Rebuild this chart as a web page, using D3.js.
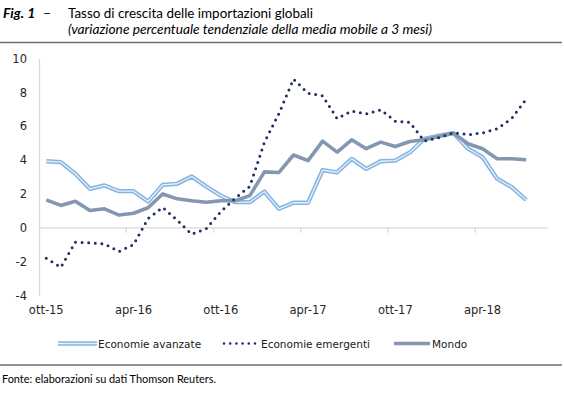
<!DOCTYPE html>
<html><head><meta charset="utf-8">
<script src="https://cdn.jsdelivr.net/npm/d3@7/dist/d3.min.js"></script>
<style>body{margin:0;background:#fff} svg{display:block}</style>
</head><body><svg id="c" width="564" height="402"></svg>
<script>
const categories = ["ott-15","nov-15","dic-15","gen-16","feb-16","mar-16","apr-16","mag-16","giu-16","lug-16","ago-16","set-16",
  "ott-16","nov-16","dic-16","gen-17","feb-17","mar-17","apr-17","mag-17","giu-17","lug-17","ago-17","set-17",
  "ott-17","nov-17","dic-17","gen-18","feb-18","mar-18","apr-18","mag-18","giu-18","lug-18","ago-18"];
const tickLabels = ["ott-15","apr-16","ott-16","apr-17","ott-17","apr-18"];
const yTicks = [-4,-2,0,2,4,6,8,10];
const avanzate = [3.93,3.88,3.19,2.3,2.5,2.16,2.16,1.55,2.54,2.6,3.03,2.44,1.9,1.51,1.51,2.14,1.12,1.48,1.48,3.4,3.28,4.07,3.48,3.93,3.97,4.45,5.26,5.45,5.59,4.67,4.17,2.9,2.4,1.65];
const emergenti = [-1.8,-2.33,-0.85,-0.89,-0.95,-1.4,-1.0,0.55,1.2,0.45,-0.38,-0.05,0.95,1.75,2.45,5.05,6.75,8.78,7.95,7.8,6.45,6.9,6.72,6.97,6.3,6.22,5.12,5.32,5.62,5.5,5.6,5.85,6.45,7.6];
const mondo = [1.65,1.32,1.57,1.02,1.12,0.75,0.86,1.18,2.0,1.71,1.6,1.51,1.6,1.6,1.9,3.3,3.27,4.3,3.97,5.12,4.47,5.2,4.67,5.06,4.8,5.1,5.2,5.39,5.59,4.96,4.67,4.08,4.08,4.02];
const seriesNames = ["Economie avanzate","Economie emergenti","Mondo"];

const svg = d3.select("#c");
const x = d3.scaleBand().domain(categories).range([39,548]);
const y = d3.scaleLinear().domain([-4,10]).range([295.5,58.5]);
const cx = i => x(categories[i]) + x.bandwidth()/2;

// Header
const head = svg.append("g").attr("fill","#000");
head.append("text").attr("x",3).attr("y",18).attr("font-family","Lato, sans-serif").attr("font-size",14)
  .attr("font-weight","bold").attr("font-style","italic").text("Fig. 1");
head.append("text").attr("x",43).attr("y",18).attr("font-family","Lato, sans-serif").attr("font-size",14).text("–");
head.append("text").attr("x",68).attr("y",18).attr("font-family","Lato, sans-serif").attr("font-size",14)
  .attr("textLength",245).attr("lengthAdjust","spacingAndGlyphs").text("Tasso di crescita delle importazioni globali");
head.append("text").attr("x",68).attr("y",34).attr("font-family","Lato, sans-serif").attr("font-size",12.5)
  .attr("font-style","italic").attr("textLength",364).attr("lengthAdjust","spacingAndGlyphs")
  .text("(variazione percentuale tendenziale della media mobile a 3 mesi)");
svg.append("line").attr("x1",0).attr("x2",562).attr("y1",42.5).attr("y2",42.5).attr("stroke","#6f6f6f").attr("stroke-width",1.3);

// Y axis
const yAxis = svg.append("g").attr("transform","translate(39,0)")
  .call(d3.axisLeft(y).tickValues(yTicks).tickSize(0).tickPadding(12).tickFormat(d => String(d)));
yAxis.select(".domain").attr("stroke","#d9d9d9").attr("stroke-width",1.3);
yAxis.selectAll("text").attr("font-family","DejaVu Sans, sans-serif").attr("font-size",11.5).attr("fill","#262626");

// X axis line at 0
svg.append("line").attr("x1",39).attr("x2",548).attr("y1",y(0)).attr("y2",y(0)).attr("stroke","#d9d9d9").attr("stroke-width",1.3);
svg.append("g").selectAll("line").data(tickLabels.slice(1)).join("line")
  .attr("x1",d=>x(d)).attr("x2",d=>x(d)).attr("y1",y(0)).attr("y2",y(0)+5)
  .attr("stroke","#d9d9d9").attr("stroke-width",1.3);
const xAxis = svg.append("g").attr("transform","translate(0,303)")
  .call(d3.axisBottom(x).tickValues(tickLabels).tickSize(0).tickPadding(3));
xAxis.select(".domain").remove();
xAxis.selectAll("text").attr("font-family","DejaVu Sans, sans-serif").attr("font-size",11.5).attr("fill","#262626");

// Lines
const line = d3.line().x((d,i)=>cx(i)).y(d=>y(d));
const plot = svg.append("g").attr("fill","none");
plot.append("path").attr("d",line(avanzate)).attr("stroke","#86b4e3").attr("stroke-width",4.3).attr("stroke-linejoin","round");
plot.append("path").attr("d",line(avanzate)).attr("stroke","#e6f0fa").attr("stroke-width",1.3).attr("stroke-linejoin","round");
plot.append("path").attr("d",line(mondo)).attr("stroke","#8496b0").attr("stroke-width",3.6).attr("stroke-linejoin","round");
plot.append("path").attr("d",line(emergenti)).attr("stroke","#1f2f63").attr("stroke-width",3)
  .attr("stroke-linecap","round").attr("stroke-dasharray","0 6.6").attr("stroke-linejoin","round");

// Legend
const lg = svg.append("g");
const ly = 343.5;
lg.append("line").attr("x1",58).attr("x2",97).attr("y1",ly).attr("y2",ly).attr("stroke","#86b4e3").attr("stroke-width",4.3);
lg.append("line").attr("x1",58).attr("x2",97).attr("y1",ly).attr("y2",ly).attr("stroke","#e6f0fa").attr("stroke-width",1.3);
lg.append("line").attr("x1",224).attr("x2",256).attr("y1",ly).attr("y2",ly).attr("stroke","#1f2f63").attr("stroke-width",2.6)
  .attr("stroke-linecap","round").attr("stroke-dasharray","0 6.2");
lg.append("line").attr("x1",394).attr("x2",430).attr("y1",ly).attr("y2",ly).attr("stroke","#8496b0").attr("stroke-width",3.6);
const lx = [98,261,432];
lg.selectAll("text").data(seriesNames).join("text")
  .attr("x",(d,i)=>lx[i]).attr("y",ly+4).attr("font-family","DejaVu Sans, sans-serif").attr("font-size",10.5)
  .attr("fill","#1a1a1a").text(d=>d);

// Footer
svg.append("line").attr("x1",0).attr("x2",562).attr("y1",365).attr("y2",365).attr("stroke","#6f6f6f").attr("stroke-width",1.3);
svg.append("text").attr("x",2).attr("y",383).attr("font-family","Lato, sans-serif").attr("font-size",12)
  .attr("textLength",214).attr("lengthAdjust","spacingAndGlyphs").attr("fill","#000")
  .text("Fonte: elaborazioni su dati Thomson Reuters.");
</script></body></html>
